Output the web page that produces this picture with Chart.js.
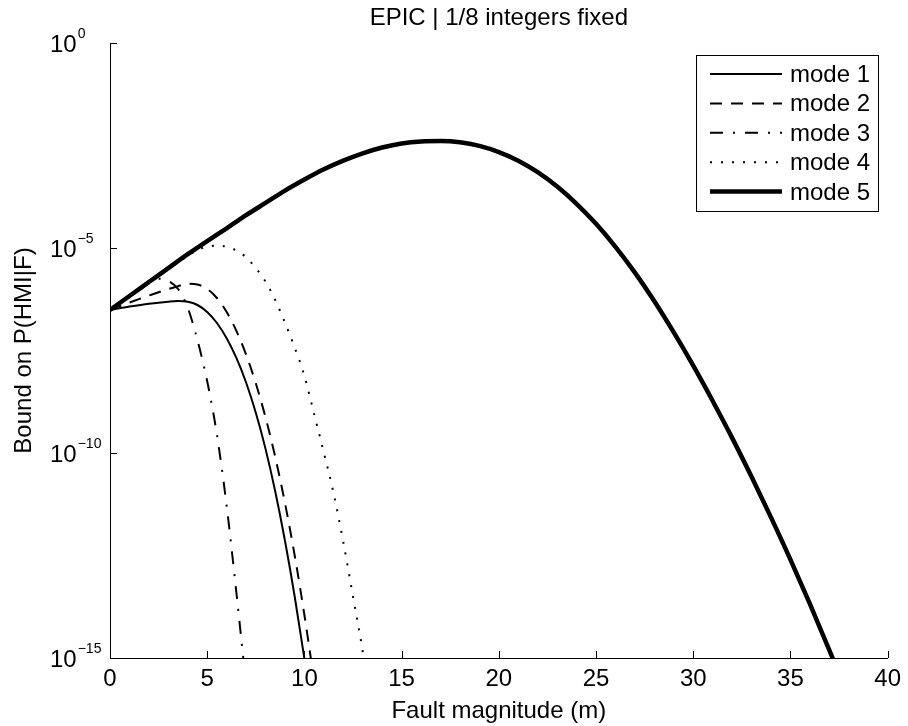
<!DOCTYPE html>
<html><head><meta charset="utf-8">
<script src="https://cdn.jsdelivr.net/npm/chart.js@4"></script>
<style>html,body{margin:0;padding:0;background:#fff}#wrap{width:908px;height:726px}</style>
</head><body><div id="wrap"><canvas id="c" width="908" height="726"></canvas></div>
<script>
const FONT = '"Liberation Sans", Arial, Helvetica, sans-serif';
const titleText = 'EPIC | 1/8 integers fixed';
const xTitle = 'Fault magnitude (m)';
const yTitle = 'Bound on P(HMI|F)';
const seriesLabels = ['mode 1', 'mode 2', 'mode 3', 'mode 4', 'mode 5'];
const xTicks = [0, 5, 10, 15, 20, 25, 30, 35, 40];
const yTicks = [1e-15, 1e-10, 1e-5, 1];
const yTickBase = ['10', '10', '10', '10'];
const yTickExp = ['\u221215', '\u221210', '\u22125', '0'];

const mode1X = [0, 1, 2, 3, 3.5, 4, 4.5, 5, 5.5, 6, 6.5, 7, 7.5, 8, 8.5, 9, 9.5, 10];
const mode1Y = [3.09e-7, 3.72e-7, 4.37e-7, 4.90e-7, 5.07e-7, 4.90e-7, 4.07e-7, 2.75e-7, 1.48e-7, 6.31e-8, 2.09e-8, 5.25e-9, 9.55e-10, 1.26e-10, 1.15e-11, 7.24e-13, 3.16e-14, 9.55e-16];

const mode2X = [0, 1, 2, 3, 3.5, 4, 4.5, 5, 5.5, 6, 6.5, 7, 7.5, 8, 8.5, 9, 9.5, 10, 10.35];
const mode2Y = [3.09e-7, 4.68e-7, 6.92e-7, 1.00e-6, 1.17e-6, 1.35e-6, 1.29e-6, 1.00e-6, 6.03e-7, 2.75e-7, 9.55e-8, 2.51e-8, 5.01e-9, 7.41e-10, 7.94e-11, 6.03e-12, 3.16e-13, 1.12e-14, 8.51e-16];

const mode3X = [0, 1, 2, 2.5, 3, 3.5, 4, 4.5, 5, 5.5, 6, 6.5, 6.9];
const mode3Y = [3.09e-7, 6.46e-7, 1.38e-6, 1.78e-6, 1.58e-6, 1.00e-6, 3.47e-7, 5.62e-8, 5.62e-9, 2.82e-10, 5.13e-12, 3.98e-14, 6.31e-16];

const mode4X = [0, 1, 2, 3, 4, 4.6, 5, 5.5, 6, 6.5, 7, 7.5, 8, 8.5, 9, 9.5, 10, 10.5, 11, 11.5, 12, 12.5, 13, 13.1];
const mode4Y = [3.09e-7, 6.61e-7, 1.45e-6, 3.09e-6, 6.46e-6, 9.33e-6, 1.07e-5, 1.15e-5, 1.07e-5, 8.71e-6, 5.89e-6, 3.24e-6, 1.51e-6, 5.37e-7, 1.51e-7, 3.72e-8, 7.59e-9, 8.91e-10, 1.02e-10, 1.05e-11, 6.76e-13, 3.16e-14, 1.41e-15, 6.31e-16];

const mode5X = [0, 1, 2, 3, 4, 5, 6, 7, 8, 9, 10, 11, 12, 13, 14, 15, 16, 17, 18, 19, 20, 21, 22, 23, 24, 25, 26, 27, 28, 29, 30, 31, 32, 33, 34, 35, 36, 37, 37.2];
const mode5Y = [3.09e-7, 6.76e-7, 1.48e-6, 3.24e-6, 7.08e-6, 1.48e-5, 3.02e-5, 6.31e-5, 1.26e-4, 2.51e-4, 4.68e-4, 8.32e-4, 1.35e-3, 2.04e-3, 2.82e-3, 3.55e-3, 3.98e-3, 4.07e-3, 3.80e-3, 3.09e-3, 2.19e-3, 1.35e-3, 7.08e-4, 3.16e-4, 1.20e-4, 3.89e-5, 1.07e-5, 2.51e-6, 5.01e-7, 8.71e-8, 1.35e-8, 1.86e-9, 2.34e-10, 2.63e-11, 2.69e-12, 2.51e-13, 2.09e-14, 1.55e-15, 9.12e-16];

const seriesX = [mode1X, mode2X, mode3X, mode4X, mode5X];
const seriesY = [mode1Y, mode2Y, mode3Y, mode4Y, mode5Y];
const lineWidths = [2, 2, 2, 2, 4.5];
const lineDashes = [[], [12, 9], [13, 10, 2, 10], [2, 9], []];

function pts(xs, ys) { return xs.map((x, i) => ({ x: x, y: ys[i] })); }

const datasets = seriesLabels.map((lab, i) => ({
  label: lab,
  data: pts(seriesX[i], seriesY[i]),
  borderColor: '#000',
  backgroundColor: '#000',
  borderWidth: lineWidths[i],
  borderDash: lineDashes[i],
  borderCapStyle: 'butt',
  pointRadius: 0,
  fill: false,
  cubicInterpolationMode: 'monotone',
  clip: 0,
  order: i === 4 ? 0 : i + 1
}));

const decor = {
  id: 'decor',
  afterDraw(chart) {
    const ctx = chart.ctx;
    const xs = chart.scales.x, ys = chart.scales.y;
    const ca = chart.chartArea;
    ctx.save();
    ctx.strokeStyle = '#000';
    ctx.lineWidth = 1;
    ctx.setLineDash([]);
    ctx.beginPath();
    xTicks.forEach(v => {
      const px = Math.round(xs.getPixelForValue(v)) + 0.5;
      ctx.moveTo(px, ca.bottom); ctx.lineTo(px, ca.bottom - 7);
    });
    yTicks.forEach(v => {
      const py = Math.round(ys.getPixelForValue(v)) + 0.5;
      ctx.moveTo(ca.left, py); ctx.lineTo(ca.left + 7, py);
    });
    ctx.stroke();
    ctx.fillStyle = '#000';
    ctx.textAlign = 'left';
    ctx.textBaseline = 'alphabetic';
    yTicks.forEach((v, i) => {
      const py = ys.getPixelForValue(v);
      ctx.font = '24px ' + FONT;
      ctx.fillText(yTickBase[i], 50, py + 8.5);
      const w = ctx.measureText(yTickBase[i]).width;
      ctx.font = '14px ' + FONT;
      ctx.fillText(yTickExp[i], 50 + w + 1, py - 5);
    });
    ctx.font = '24px ' + FONT;
    ctx.textAlign = 'center';
    ctx.fillText(titleText, (ca.left + ca.right) / 2, 24.5);
    const bx = 696, by = 55, bw = 182, bh = 156;
    ctx.fillStyle = '#fff';
    ctx.fillRect(bx, by, bw, bh);
    ctx.strokeStyle = '#000';
    ctx.lineWidth = 1;
    ctx.strokeRect(bx + 0.5, by + 0.5, bw, bh);
    ctx.textAlign = 'left';
    ctx.fillStyle = '#000';
    chart.data.datasets.forEach((ds, i) => {
      const base = 82 + i * 29.4;
      const ly = base - 8;
      ctx.beginPath();
      ctx.lineWidth = ds.borderWidth;
      ctx.setLineDash(ds.borderDash);
      ctx.lineCap = 'butt';
      ctx.moveTo(710, ly); ctx.lineTo(782, ly);
      ctx.stroke();
      ctx.setLineDash([]);
      ctx.font = '24px ' + FONT;
      ctx.fillText(ds.label, 790, base);
    });
    ctx.restore();
  }
};

new Chart(document.getElementById('c'), {
  type: 'line',
  data: { datasets: datasets },
  options: {
    responsive: false,
    animation: false,
    devicePixelRatio: 1,
    layout: { padding: { top: 43, right: 18, left: 0, bottom: 0 } },
    plugins: { legend: { display: false }, tooltip: { enabled: false }, title: { display: false } },
    scales: {
      x: {
        type: 'linear', min: 0, max: 40,
        afterBuildTicks: s => { s.ticks = xTicks.map(v => ({ value: v })); },
        afterFit: s => { s.height = 68; },
        ticks: { color: '#000', font: { family: FONT, size: 24 }, padding: 7, maxRotation: 0, autoSkip: false },
        grid: { display: false, drawTicks: false },
        border: { display: true, color: '#000', width: 1 },
        title: { display: true, text: xTitle, color: '#000', font: { family: FONT, size: 24 }, padding: { top: 0, bottom: 0 } }
      },
      y: {
        type: 'logarithmic', min: 1e-15, max: 1,
        afterBuildTicks: s => { s.ticks = yTicks.map(v => ({ value: v })); },
        afterFit: s => { s.width = 110; },
        ticks: { display: false },
        grid: { display: false, drawTicks: false },
        border: { display: true, color: '#000', width: 1 },
        title: { display: true, text: yTitle, color: '#000', font: { family: FONT, size: 24 }, padding: { top: 10, bottom: 0 } }
      }
    }
  },
  plugins: [decor]
});
</script>
</body></html>
